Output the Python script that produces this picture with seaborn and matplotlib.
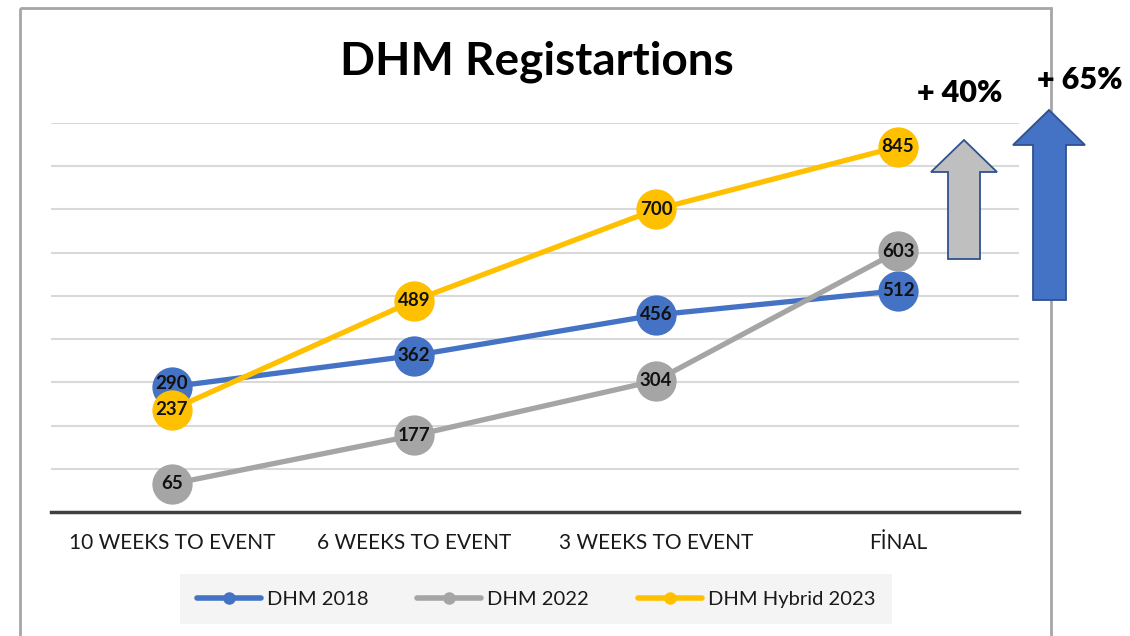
import pandas as pd
import seaborn as sns
import matplotlib.pyplot as plt
import matplotlib.patches as mpatches
from matplotlib.lines import Line2D

# data
stages = ['10 WEEKS TO EVENT', '6 WEEKS TO EVENT', '3 WEEKS TO EVENT', 'FİNAL']
dhm_2018 = [290, 362, 456, 512]
dhm_2022 = [65, 177, 304, 603]
dhm_hybrid_2023 = [237, 489, 700, 845]
series_names = ['DHM 2018', 'DHM 2022', 'DHM Hybrid 2023']
colors = ['#4472C4', '#A5A5A5', '#FFC000']
growth_labels = ['+ 40%', '+ 65%']

df = pd.DataFrame({
    'stage': stages * 3,
    'x': list(range(len(stages))) * 3,
    'value': dhm_2018 + dhm_2022 + dhm_hybrid_2023,
    'series': [s for s in series_names for _ in stages],
})

sns.set_theme(style='white')
plt.rcParams['font.family'] = ['Lato', 'DejaVu Sans']

fig = plt.figure(figsize=(11.3, 6.36), dpi=100)
ax = fig.add_axes([51 / 1130, 1 - 512 / 636, 968 / 1130, 389 / 636])

# gridlines
for v in range(100, 1000, 100):
    ax.axhline(v, color='#D9D9D9', lw=1.5, zorder=0)

sns.lineplot(data=df, x='x', y='value', hue='series', palette=colors,
             hue_order=series_names, marker='o', markersize=29,
             markeredgewidth=0, linewidth=3.8, legend=False, ax=ax, zorder=3)

# data labels (drawn per series so later series sit on top)
for i, (name, vals) in enumerate(zip(series_names, [dhm_2018, dhm_2022, dhm_hybrid_2023])):
    for x, v in enumerate(vals):
        dy = 0
        if x == 0 and name == 'DHM 2018':
            dy = 8
        ax.text(x, v + dy, str(v), ha='center', va='center', fontsize=13.5,
                fontweight='bold', color='#111111', zorder=5 + i)

ax.set_xlim(-0.5, 3.5)
ax.set_ylim(0, 900)
ax.set_xticks(range(len(stages)))
ax.set_xticklabels(stages, fontsize=15, color='#1a1a1a')
ax.tick_params(axis='x', length=0, pad=15)
ax.set_yticks([])
ax.set_xlabel('')
ax.set_ylabel('')
for s in ['top', 'right', 'left']:
    ax.spines[s].set_visible(False)
ax.spines['bottom'].set_color('#404040')
ax.spines['bottom'].set_linewidth(2.5)

fig.text(537 / 1130, 1 - 62 / 636, 'DHM Registartions', ha='center', va='center',
         fontsize=33, fontweight='bold', color='black')

# legend
handles = [Line2D([0], [0], color=c, lw=4, marker='o', markersize=8) for c in colors]
leg = fig.legend(handles, series_names, loc='center', bbox_to_anchor=(536 / 1130, 1 - 599 / 636),
                 ncol=3, frameon=True, fontsize=14.5, handlelength=3.2, columnspacing=2.4,
                 borderpad=0.8, handletextpad=0.3, labelcolor='#1a1a1a')
leg.get_frame().set_facecolor('#F2F2F2')
leg.get_frame().set_edgecolor('none')
leg.get_frame().set_boxstyle('square', pad=0)

# overlay in pixel coordinates for frame and arrows
ov = fig.add_axes([0, 0, 1, 1], zorder=10)
ov.set_xlim(0, 1130)
ov.set_ylim(636, 0)
ov.axis('off')
ov.patch.set_alpha(0)
ov.add_patch(mpatches.Rectangle((20, 8), 1031, 640, fill=False, edgecolor='#A6A6A6', lw=2))

def up_arrow(x0, x1, sx0, sx1, ybot, ybase, ytip, face):
    pts = [(sx0, ybot), (sx0, ybase), (x0, ybase), ((x0 + x1) / 2, ytip),
           (x1, ybase), (sx1, ybase), (sx1, ybot)]
    ov.add_patch(mpatches.Polygon(pts, closed=True, facecolor=face, edgecolor='#2F528F', lw=1.3))

up_arrow(931, 997, 948, 980, 259, 172, 140, '#BFBFBF')
up_arrow(1013, 1085, 1033, 1066, 300, 145, 110, '#4472C4')
ov.text(960, 93, growth_labels[0], ha='center', va='center', fontsize=22,
        fontweight='heavy', color='black')
ov.text(1080, 80, growth_labels[1], ha='center', va='center', fontsize=22,
        fontweight='heavy', color='black')

fig.savefig('out.png', dpi=100, facecolor='white')
